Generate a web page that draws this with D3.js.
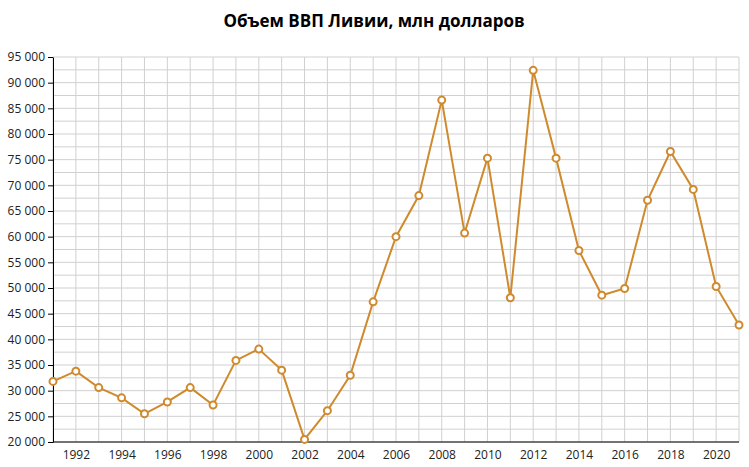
<!DOCTYPE html>
<html><head><meta charset="utf-8">
<script src="https://cdn.jsdelivr.net/npm/d3@7"></script>
<style>body{margin:0;background:#fff}</style></head>
<body><svg id="c" width="749" height="467"></svg>
<script>
const years = d3.range(1991, 2022)
const gdp = [31800, 33800, 30600, 28600, 25500, 27800, 30600, 27200, 35900, 38100,
  34000, 20500, 26100, 33000, 47300, 60000, 68000, 86600, 60700, 75300,
  48100, 92400, 75300, 57300, 48600, 49900, 67100, 76600, 69200, 50300, 42800]

const svg = d3.select("#c")
const x = d3.scaleLinear().domain([1991, 2021]).range([53, 739])
const y = d3.scaleLinear().domain([20000, 95000]).range([442, 57])
const fmt = v => d3.format(",")(v).replace(/,/g, " ")

svg.append("text").attr("x", 374).attr("y", 27).attr("text-anchor", "middle")
  .style("font", "bold 17px 'Open Sans', sans-serif").text("Объем ВВП Ливии, млн долларов")

const grid = svg.append("g").attr("stroke", "#d0d0d0").attr("stroke-width", 1)
grid.selectAll(".v").data(years).enter().append("line")
  .attr("x1", d => x(d)).attr("x2", d => x(d)).attr("y1", 57).attr("y2", 442)
grid.selectAll(".h").data(d3.range(20000, 95001, 2500)).enter().append("line")
  .attr("x1", 53).attr("x2", 739).attr("y1", d => y(d)).attr("y2", d => y(d))

svg.append("g").attr("transform", "translate(53,0)")
  .call(d3.axisLeft(y).tickValues(d3.range(20000, 95001, 5000)).tickFormat(fmt).tickSize(5).tickSizeOuter(0))
  .call(g => g.selectAll("text").style("font", "12px 'Open Sans', sans-serif").attr("fill", "#222"))
svg.append("g").attr("transform", "translate(0,442)")
  .call(d3.axisBottom(x).tickValues(d3.range(1992, 2021, 2)).tickFormat(d3.format("d")).tickSize(0).tickPadding(8).tickSizeOuter(0))
  .call(g => g.selectAll("text").style("font", "12px 'Open Sans', sans-serif").attr("fill", "#222"))
  .call(g => g.select(".domain").attr("d", "M53,0H739"))

const col = "#d08a2e"
svg.append("path").datum(years.map((d, i) => [d, gdp[i]]))
  .attr("fill", "none").attr("stroke", col).attr("stroke-width", 2)
  .attr("d", d3.line().x(d => x(d[0])).y(d => y(d[1])))
svg.selectAll(".pt").data(years).enter().append("circle")
  .attr("cx", d => x(d)).attr("cy", (d, i) => y(gdp[i])).attr("r", 3.5)
  .attr("fill", "#fff").attr("stroke", col).attr("stroke-width", 2)
</script></body></html>
